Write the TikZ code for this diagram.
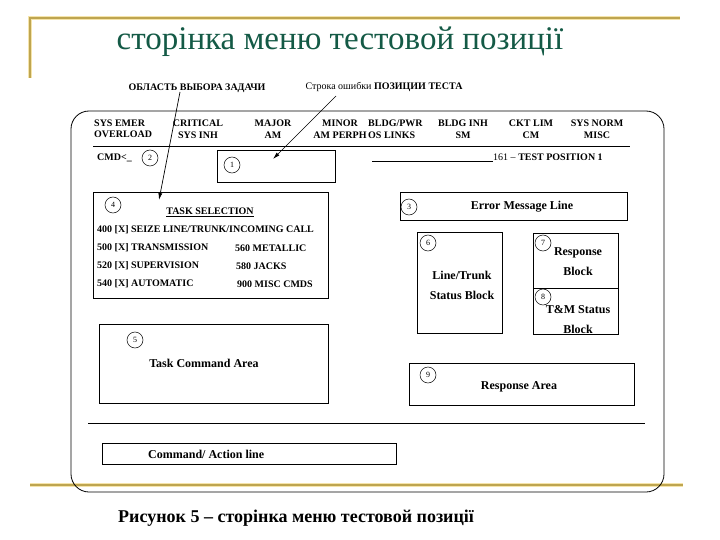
\documentclass[tikz,border=0pt]{standalone}
\usepackage{fontspec}
\setmainfont{Liberation Serif}
\usetikzlibrary{arrows.meta}
\definecolor{gold}{RGB}{190,165,80}
\definecolor{goldlight}{RGB}{245,228,170}
\definecolor{titlegreen}{RGB}{20,90,70}
\begin{document}
\begin{tikzpicture}[x=1pt,y=-1pt,
  hdr/.style={font=\fontsize{10}{11.5}\selectfont\bfseries, inner sep=0, align=center},
  txt/.style={font=\fontsize{10}{11}\selectfont\bfseries, inner sep=0, anchor=west},
  big/.style={font=\fontsize{12}{20}\selectfont\bfseries, inner sep=0, align=center},
  box/.style={draw, line width=0.8pt, inner sep=0},
  num/.style={draw, circle, minimum size=16pt, inner sep=0, font=\fontsize{8}{8}\selectfont, line width=0.5pt},
  arr/.style={line width=0.7pt, -{Latex[length=7pt,width=4pt]}},
  goldline/.style={gold, line width=2pt}
]
\useasboundingbox (0,0) rectangle (720,540);
\fill[white] (0,0) rectangle (720,540);

% decorative gold frame
\draw[goldlight, line width=4pt] (30,78) -- (30,18) -- (680,18);
\draw[goldline] (30,78) -- (30,18) -- (680,18);
\draw[goldlight, line width=4pt] (30,485) -- (683,485);
\draw[goldline] (30,485) -- (683,485);

% title
\node[font=\fontsize{33}{33}\selectfont, text=titlegreen, inner sep=0] (title) at (340,42) {сторінка меню тестовой позиції};

% outer screen frame
\draw[line width=0.8pt, rounded corners=18pt] (71,111) rectangle (664,492);

% top labels
\node[hdr] (oblast) at (197,88) {ОБЛАСТЬ ВЫБОРА ЗАДАЧИ};
\node[font=\fontsize{10}{11}\selectfont, inner sep=0] (stroka) at (384,87) {Строка ошибки \textbf{ПОЗИЦИИ ТЕСТА}};

% header row
\node[hdr, align=left, anchor=west] (h1) at (94,129) {SYS EMER\\OVERLOAD};
\node[hdr] (h2) at (198,129) {CRITICAL\\SYS INH};
\node[hdr] (h3) at (273,129) {MAJOR\\AM};
\node[hdr] (h4) at (340,129) {MINOR\\AM PERPH};
\node[hdr, align=left, anchor=west] (h5) at (368,129) {BLDG/PWR\\OS LINKS};
\node[hdr] (h6) at (463,129) {BLDG INH\\SM};
\node[hdr] (h7) at (531,129) {CKT LIM\\CM};
\node[hdr] (h8) at (597,129) {SYS NORM\\MISC};
\coordinate (sepL) at (93,146);
\coordinate (sepR) at (630,146);
\draw[line width=0.6pt] (sepL) -- (sepR);

% command prompt line
\node[txt] (cmd) at (97,158) {CMD<\_};
\node[num] (c2) at (150,158) {2};

% box 1
\node[box, minimum width=118pt, minimum height=32pt] (b1) at (276,166) {};
\node[num] (c1) at (232,165) {1};
\coordinate (tpL) at (372,161);
\node[font=\fontsize{10}{11}\selectfont, inner sep=0, anchor=base west] (tp) at (493,161) {161 -- \textbf{TEST POSITION 1}};
\draw[line width=0.6pt] (tpL) -- (tp.base west);

% box 4
\node[box, minimum width=235pt, minimum height=106pt] (b4) at (210.5,245) {};
\node[num] (c4) at (113,205) {4};
\node[hdr] (ts) at (210,212) {\underline{TASK SELECTION}};
\node[txt] (l1) at (97,230) {400 [X] SEIZE LINE/TRUNK/INCOMING CALL};
\node[txt] (l2) at (97,248) {500 [X] TRANSMISSION};
\node[txt] (l3) at (97,266) {520 [X] SUPERVISION};
\node[txt] (l4) at (97,284) {540 [X] AUTOMATIC};
\node[txt] (r2) at (235,248) {560 METALLIC};
\node[txt] (r3) at (236,266) {580 JACKS};
\node[txt] (r4) at (237,284) {900 MISC CMDS};

% box 3
\node[box, minimum width=227pt, minimum height=28pt] (b3) at (513.5,206) {};
\node[num] (c3) at (409,207) {3};
\node[big] (err) at (522,207) {Error Message Line};

% box 6
\node[box, minimum width=85pt, minimum height=101pt] (b6) at (459.5,282.5) {};
\node[num] (c6) at (428,243) {6};
\node[big] (lt) at (462,285.5) {Line/Trunk\\Status Block};

% box 7/8
\node[box, minimum width=85pt, minimum height=101pt] (b78) at (575.5,283.5) {};
\coordinate (divL) at (533,288);
\coordinate (divR) at (618,288);
\draw[line width=0.8pt] (divL) -- (divR);
\node[num] (c7) at (543,243) {7};
\node[big] (resp) at (578,262) {Response\\Block};
\node[num] (c8) at (543,297) {8};
\node[big] (tm) at (578,319.5) {T\&M Status\\Block};

% box 5
\node[box, minimum width=229pt, minimum height=79pt] (b5) at (213.5,363.5) {};
\node[num] (c5) at (135,340) {5};
\node[big] (tca) at (204,363) {Task Command Area};

% box 9
\node[box, minimum width=225pt, minimum height=42pt] (b9) at (521.5,384) {};
\node[num] (c9) at (428,375) {9};
\node[big] (ra) at (519,387) {Response Area};

% long line
\coordinate (llL) at (88,423);
\coordinate (llR) at (645,423);
\draw[line width=0.8pt] (llL) -- (llR);

% command/action line box
\node[box, minimum width=294pt, minimum height=21pt] (bc) at (249,453.5) {};
\node[big, anchor=west] (cal) at (148,454) {Command/ Action line};

% arrows
\coordinate (s4) at (180,92);
\coordinate (t4) at (159,200);
\coordinate (s1) at (336,96);
\coordinate (t1) at (273,159);
\draw[arr] (s4) -- (t4);
\draw[arr] (s1) -- (t1);

% caption
\node[font=\fontsize{18}{18}\selectfont\bfseries, inner sep=0, anchor=west] (cap) at (118,518) {Рисунок 5 – сторінка меню тестовой позиції};
\end{tikzpicture}
\end{document}
